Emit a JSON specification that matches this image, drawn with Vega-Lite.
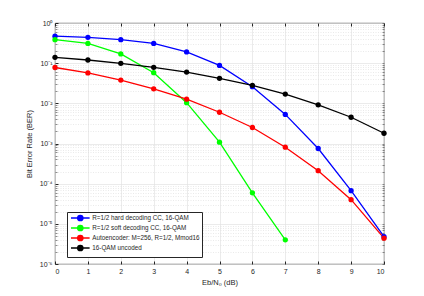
{
  "$schema": "https://vega.github.io/schema/vega-lite/v6.json",
  "width": 329,
  "height": 241,
  "autosize": {"type": "none"},
  "padding": {"left": 55, "top": 23, "right": 40, "bottom": 32},
  "background": "white",
  "config": {
    "font": "Liberation Sans",
    "view": {"stroke": "#262626", "strokeWidth": 0.8},
    "axis": {
      "domain": false,
      "labelFont": "Liberation Sans",
      "titleFont": "Liberation Sans",
      "labelFontSize": 7,
      "titleFontSize": 7.5,
      "titleFontWeight": "normal",
      "labelColor": "#262626",
      "titleColor": "#262626",
      "tickColor": "#262626"
    }
  },
  "data": {
    "values": [
      {"x": 0, "ber": 0.47, "series": "R=1/2 hard decoding CC, 16-QAM"},
      {"x": 1, "ber": 0.44, "series": "R=1/2 hard decoding CC, 16-QAM"},
      {"x": 2, "ber": 0.385, "series": "R=1/2 hard decoding CC, 16-QAM"},
      {"x": 3, "ber": 0.31, "series": "R=1/2 hard decoding CC, 16-QAM"},
      {"x": 4, "ber": 0.19, "series": "R=1/2 hard decoding CC, 16-QAM"},
      {"x": 5, "ber": 0.088, "series": "R=1/2 hard decoding CC, 16-QAM"},
      {"x": 6, "ber": 0.026, "series": "R=1/2 hard decoding CC, 16-QAM"},
      {"x": 7, "ber": 0.0053, "series": "R=1/2 hard decoding CC, 16-QAM"},
      {"x": 8, "ber": 0.00075, "series": "R=1/2 hard decoding CC, 16-QAM"},
      {"x": 9, "ber": 0.000067, "series": "R=1/2 hard decoding CC, 16-QAM"},
      {"x": 10, "ber": 0.0000048, "series": "R=1/2 hard decoding CC, 16-QAM"},
      {"x": 0, "ber": 0.385, "series": "R=1/2 soft decoding CC, 16-QAM"},
      {"x": 1, "ber": 0.31, "series": "R=1/2 soft decoding CC, 16-QAM"},
      {"x": 2, "ber": 0.17, "series": "R=1/2 soft decoding CC, 16-QAM"},
      {"x": 3, "ber": 0.058, "series": "R=1/2 soft decoding CC, 16-QAM"},
      {"x": 4, "ber": 0.0104, "series": "R=1/2 soft decoding CC, 16-QAM"},
      {"x": 5, "ber": 0.00108, "series": "R=1/2 soft decoding CC, 16-QAM"},
      {"x": 6, "ber": 0.000059, "series": "R=1/2 soft decoding CC, 16-QAM"},
      {"x": 7, "ber": 0.000004, "series": "R=1/2 soft decoding CC, 16-QAM"},
      {"x": 0, "ber": 0.078, "series": "Autoencoder: M=256, R=1/2, Mmod16"},
      {"x": 1, "ber": 0.057, "series": "Autoencoder: M=256, R=1/2, Mmod16"},
      {"x": 2, "ber": 0.038, "series": "Autoencoder: M=256, R=1/2, Mmod16"},
      {"x": 3, "ber": 0.023, "series": "Autoencoder: M=256, R=1/2, Mmod16"},
      {"x": 4, "ber": 0.0127, "series": "Autoencoder: M=256, R=1/2, Mmod16"},
      {"x": 5, "ber": 0.006, "series": "Autoencoder: M=256, R=1/2, Mmod16"},
      {"x": 6, "ber": 0.0025, "series": "Autoencoder: M=256, R=1/2, Mmod16"},
      {"x": 7, "ber": 0.00081, "series": "Autoencoder: M=256, R=1/2, Mmod16"},
      {"x": 8, "ber": 0.00021, "series": "Autoencoder: M=256, R=1/2, Mmod16"},
      {"x": 9, "ber": 0.00004, "series": "Autoencoder: M=256, R=1/2, Mmod16"},
      {"x": 10, "ber": 0.0000044, "series": "Autoencoder: M=256, R=1/2, Mmod16"},
      {"x": 0, "ber": 0.14, "series": "16-QAM uncoded"},
      {"x": 1, "ber": 0.12, "series": "16-QAM uncoded"},
      {"x": 2, "ber": 0.099, "series": "16-QAM uncoded"},
      {"x": 3, "ber": 0.079, "series": "16-QAM uncoded"},
      {"x": 4, "ber": 0.06, "series": "16-QAM uncoded"},
      {"x": 5, "ber": 0.042, "series": "16-QAM uncoded"},
      {"x": 6, "ber": 0.028, "series": "16-QAM uncoded"},
      {"x": 7, "ber": 0.017, "series": "16-QAM uncoded"},
      {"x": 8, "ber": 0.0092, "series": "16-QAM uncoded"},
      {"x": 9, "ber": 0.0045, "series": "16-QAM uncoded"},
      {"x": 10, "ber": 0.0018, "series": "16-QAM uncoded"}
    ]
  },
  "layer": [
    {
      "mark": {"type": "point", "opacity": 0},
      "encoding": {
        "x": {
          "field": "x", "type": "quantitative",
          "scale": {"domain": [0, 10], "nice": false, "zero": false},
          "axis": {"orient": "top", "values": [0,1,2,3,4,5,6,7,8,9,10], "labels": false, "title": null, "grid": false, "tickSize": -3}
        },
        "y": {
          "field": "ber", "type": "quantitative",
          "scale": {"type": "log", "domain": [0.000001, 1], "nice": false},
          "axis": {
            "orient": "left", "title": null, "labels": false,
            "values": [0.000002,0.000003,0.000004,0.000005,0.000006,0.000007,0.000008,0.000009,
                       0.00002,0.00003,0.00004,0.00005,0.00006,0.00007,0.00008,0.00009,
                       0.0002,0.0003,0.0004,0.0005,0.0006,0.0007,0.0008,0.0009,
                       0.002,0.003,0.004,0.005,0.006,0.007,0.008,0.009,
                       0.02,0.03,0.04,0.05,0.06,0.07,0.08,0.09,
                       0.2,0.3,0.4,0.5,0.6,0.7,0.8,0.9],
            "grid": true, "gridColor": "#dcdcdc", "gridDash": [1, 1.5], "gridWidth": 0.6,
            "tickSize": -2, "tickWidth": 0.5
          }
        }
      }
    },
    {
      "mark": {"type": "point", "opacity": 0},
      "encoding": {
        "x": {
          "field": "x", "type": "quantitative",
          "axis": null
        },
        "y": {
          "field": "ber", "type": "quantitative",
          "axis": {
            "orient": "right", "title": null, "labels": false,
            "values": [0.000002,0.000003,0.000004,0.000005,0.000006,0.000007,0.000008,0.000009,
                       0.00002,0.00003,0.00004,0.00005,0.00006,0.00007,0.00008,0.00009,
                       0.0002,0.0003,0.0004,0.0005,0.0006,0.0007,0.0008,0.0009,
                       0.002,0.003,0.004,0.005,0.006,0.007,0.008,0.009,
                       0.02,0.03,0.04,0.05,0.06,0.07,0.08,0.09,
                       0.2,0.3,0.4,0.5,0.6,0.7,0.8,0.9,
                       0.000001,0.00001,0.0001,0.001,0.01,0.1,1],
            "grid": false, "tickSize": -2, "tickWidth": 0.5
          }
        }
      }
    },
    {
      "mark": {"type": "line", "strokeWidth": 1.3},
      "encoding": {
        "x": {
          "field": "x", "type": "quantitative",
          "axis": {"orient": "bottom", "values": [0,1,2,3,4,5,6,7,8,9,10], "title": "Eb/N₀ (dB)", "titlePadding": 4,
                   "grid": true, "gridColor": "#e3e3e3", "gridWidth": 0.7, "tickSize": -3, "labelPadding": 6}
        },
        "y": {
          "field": "ber", "type": "quantitative",
          "axis": {"orient": "left", "values": [0.000001,0.00001,0.0001,0.001,0.01,0.1,1],
                   "labelExpr": "'10' + ['⁰','⁻¹','⁻²','⁻³','⁻⁴','⁻⁵','⁻⁶'][round(-log(datum.value)/LN10)]",
                   "title": "Bit Error Rate (BER)", "titlePadding": 6,
                   "grid": true, "gridColor": "#e3e3e3", "gridWidth": 0.7, "tickSize": -3, "labelPadding": 6}
        },
        "color": {
          "field": "series", "type": "nominal",
          "scale": {
            "domain": ["R=1/2 hard decoding CC, 16-QAM", "R=1/2 soft decoding CC, 16-QAM", "Autoencoder: M=256, R=1/2, Mmod16", "16-QAM uncoded"],
            "range": ["#0000ff", "#00ff00", "#ff0000", "#000000"]
          },
          "legend": {
            "orient": "none", "legendX": 12, "legendY": 189, "title": null,
            "strokeColor": "#262626", "fillColor": "white", "padding": 2.5,
            "labelFontSize": 6.3, "labelFont": "Liberation Sans", "labelColor": "#262626", "labelLimit": 300,
            "rowPadding": -4.5, "labelOffset": 8.5,
            "symbolType": "M-3.4,0L3.4,0M-0.95,0A0.95,0.95,0,1,0,0.95,0A0.95,0.95,0,1,0,-0.95,0Z",
            "symbolSize": 30, "symbolStrokeWidth": 1.5, "symbolOffset": 7.3,
            "encode": {"symbols": {"update": {"fill": {"scale": "color", "field": "value"}, "stroke": {"scale": "color", "field": "value"}}}}
          }
        }
      }
    },
    {
      "mark": {"type": "point", "filled": true, "size": 28, "opacity": 1},
      "encoding": {
        "x": {"field": "x", "type": "quantitative", "axis": null},
        "y": {"field": "ber", "type": "quantitative", "axis": null},
        "color": {"field": "series", "type": "nominal", "legend": null}
      }
    }
  ],
  "resolve": {"axis": {"x": "independent", "y": "independent"}}
}
